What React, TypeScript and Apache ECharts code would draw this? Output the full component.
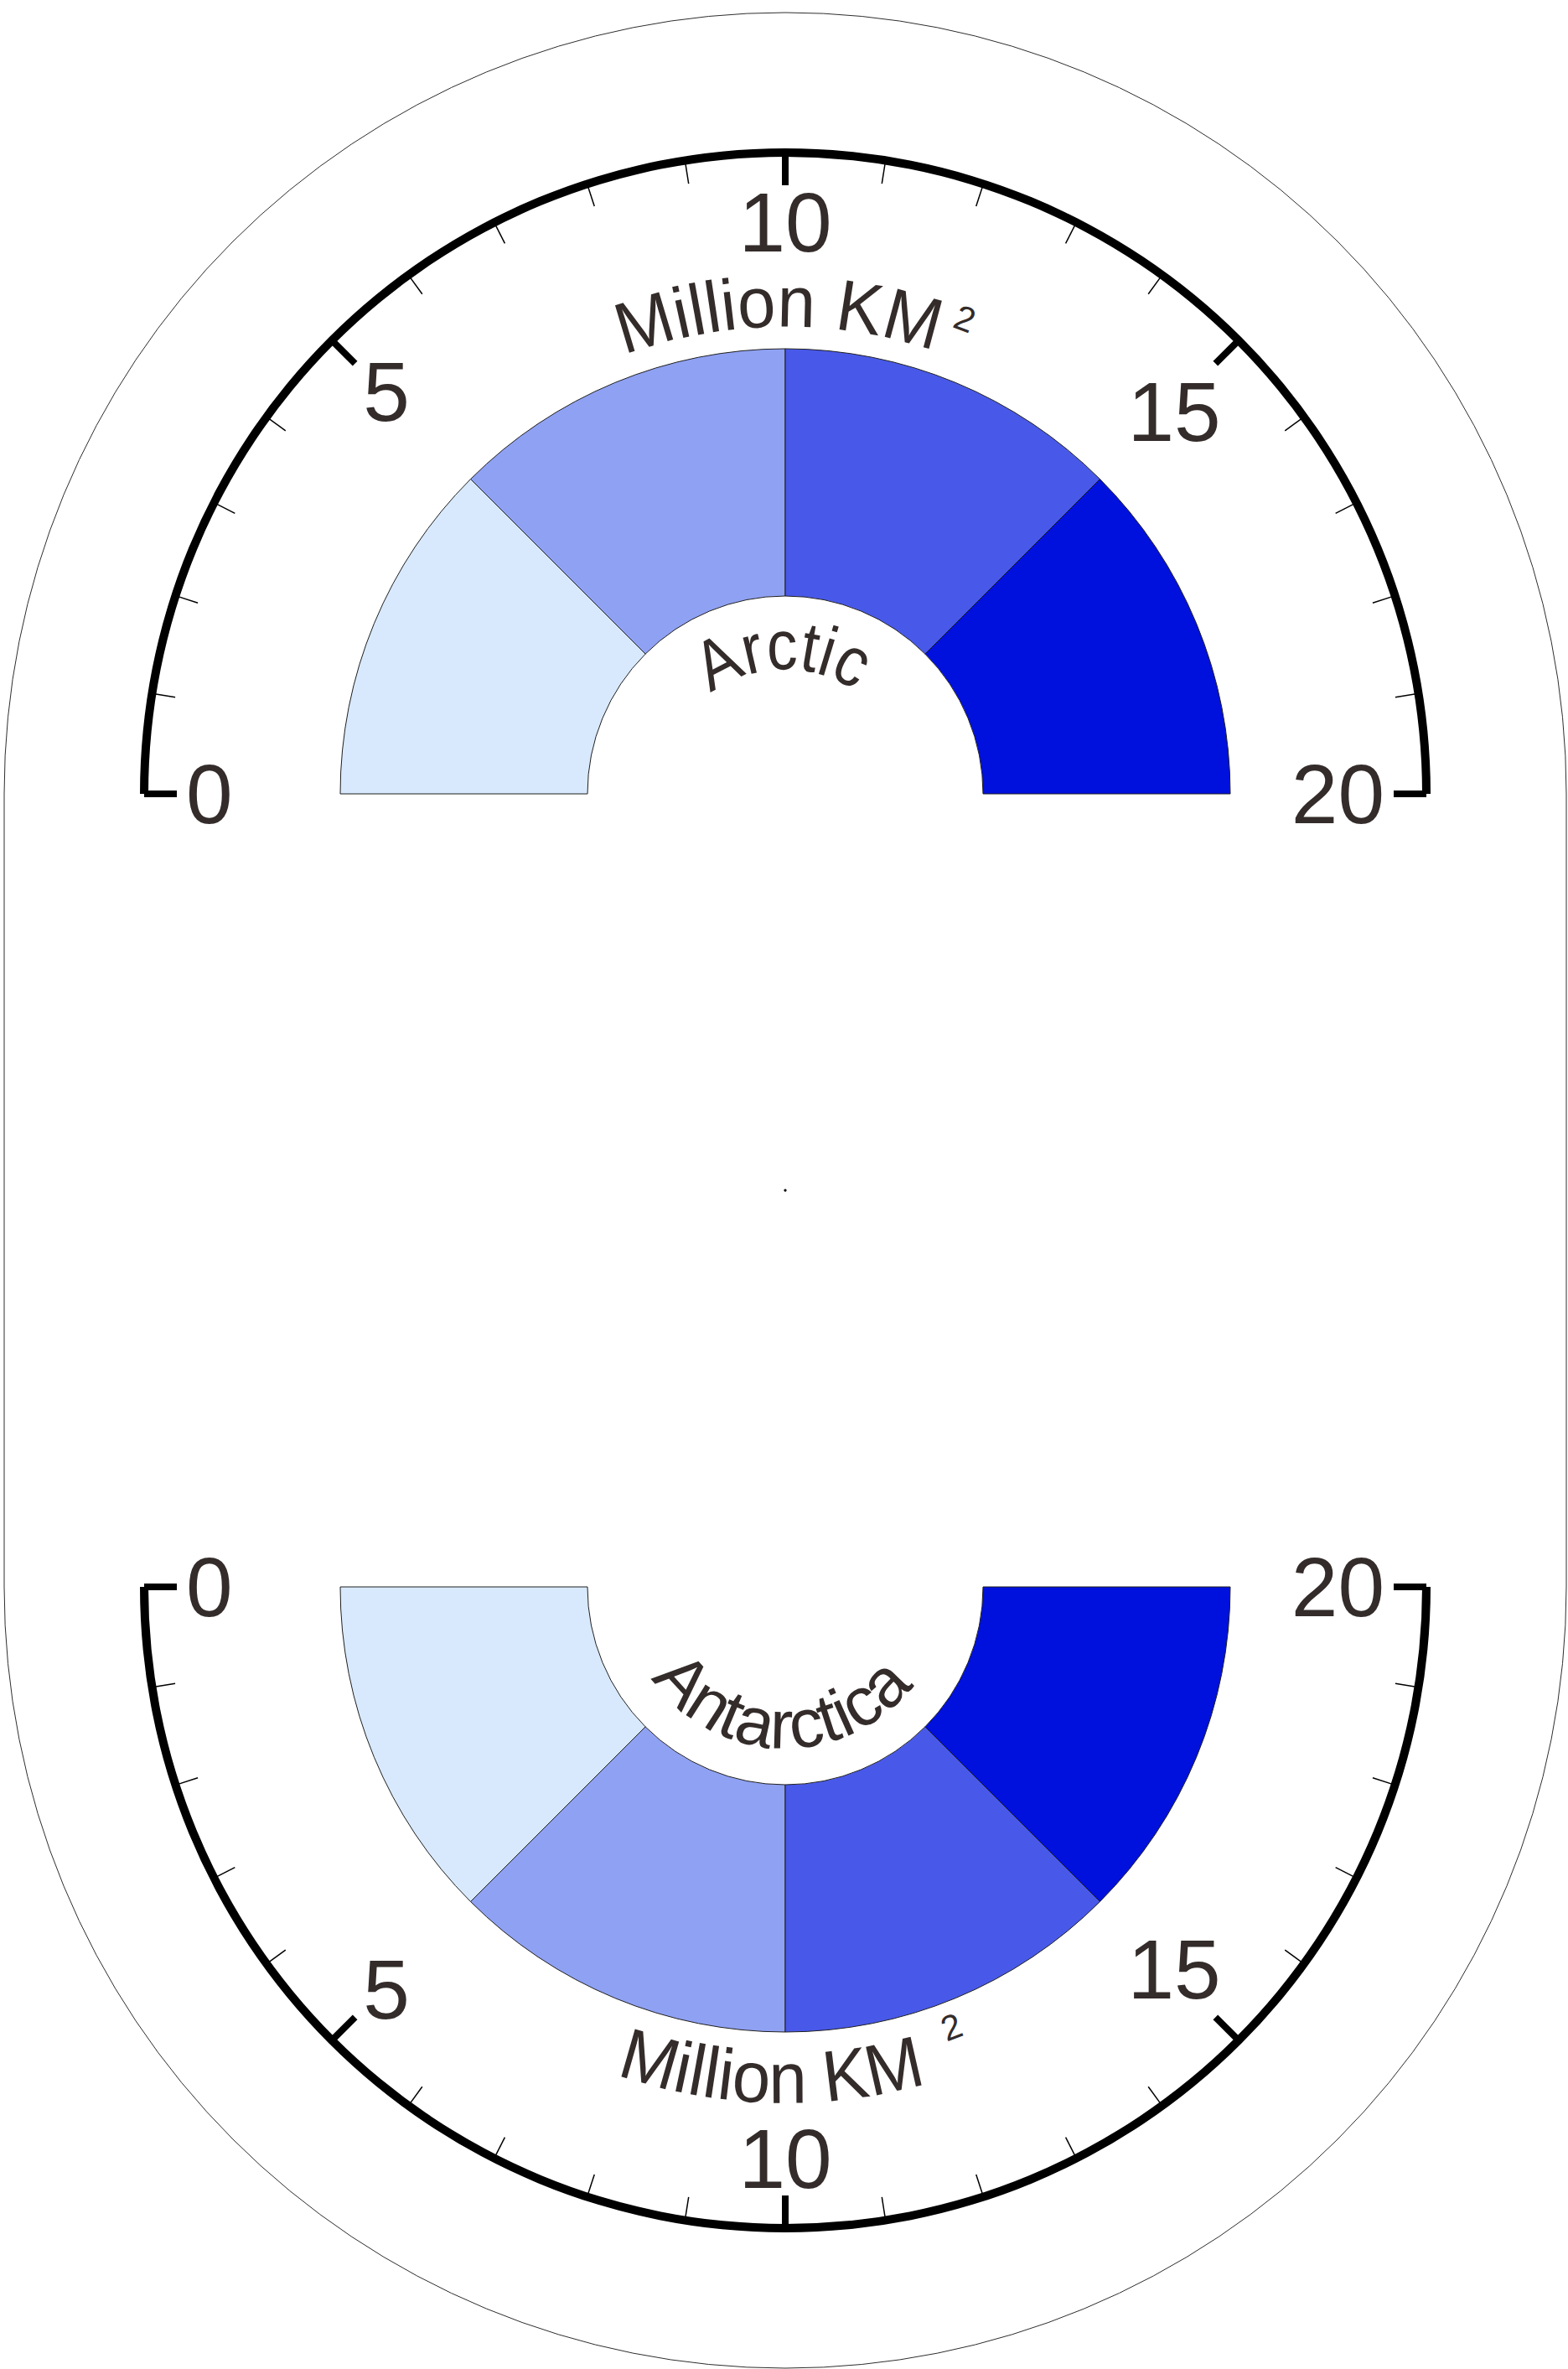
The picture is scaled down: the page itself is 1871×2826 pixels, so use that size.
import React, { useEffect, useRef } from "react";
import * as echarts from "echarts";

// ---------------- data ----------------
const axisMin = 0;
const axisMax = 20;
const majorSplits = 4; // labelled ticks 0, 5, 10, 15, 20
const minorPerSplit = 5; // a minor tick every 1 unit
const tickLabels = ["0", "5", "10", "15", "20"];
const bandNames = ["0-5", "5-10", "10-15", "15-20"];
const bandValues = [5, 5, 5, 5];
const regionNames = ["Arctic", "Antarctica"];
const unitText = "Million KM";
const unitPower = "2";

// ---------------- styles ----------------
const bandColors = ["#d8e9fd", "#8fa1f3", "#4859e9", "#0010dd"];
const inkColor = "#332c2a";
const FONT = '"Liberation Sans", Arial, Helvetica, sans-serif';

// ---------------- layout ----------------
const W = 1871;
const H = 2826;
const CX = 937;
const CY_TOP = 947;
const CY_BOT = 1893;
const AXIS_R = 770;
const AXIS_W = 10;
const BAND_R0 = 236;
const BAND_R1 = 531;
const OUTER_R = 932;

type Pad = [number, number, number, number];

const upperPads: Pad[] = [
  [0, 0, 0, 20],
  [80, 0, 0, 16],
  [3, 0, 0, 0],
  [128, 0, 0, 0],
  [0, 20, 0, 0],
];
const lowerPads: Pad[] = [
  [0, 0, 0, 20],
  [0, 0, 80, 16],
  [0, 0, 3, 0],
  [0, 0, 128, 0],
  [0, 20, 0, 0],
];

function gaugeSeries(cy: number, lower: boolean, pads: Pad[]) {
  const rich: Record<string, any> = {};
  tickLabels.forEach((t, i) => {
    rich["v" + i] = {
      padding: pads[i],
      fontSize: 100,
      fontFamily: FONT,
      color: inkColor,
    };
  });
  return {
    type: "gauge",
    center: [CX, cy],
    radius: AXIS_R,
    startAngle: 180,
    endAngle: lower ? 360 : 0,
    clockwise: !lower,
    min: axisMin,
    max: axisMax,
    splitNumber: majorSplits,
    silent: true,
    axisLine: {
      show: true,
      roundCap: false,
      lineStyle: { width: AXIS_W, color: [[1, "#000000"]] },
    },
    splitLine: {
      show: true,
      distance: -5,
      length: 39,
      lineStyle: { color: "#000000", width: 8 },
    },
    axisTick: {
      show: true,
      splitNumber: minorPerSplit,
      distance: -5,
      length: 28,
      lineStyle: { color: "#000000", width: 1.5 },
    },
    axisLabel: {
      show: true,
      distance: 1,
      fontSize: 100,
      fontFamily: FONT,
      color: inkColor,
      formatter: (v: number) => {
        const idx = Math.round(((v - axisMin) / (axisMax - axisMin)) * majorSplits);
        return "{v" + idx + "|" + tickLabels[idx] + "}";
      },
      rich,
    },
    pointer: { show: false },
    anchor: { show: false },
    progress: { show: false },
    title: { show: false },
    detail: { show: false },
    data: [{ value: axisMin }],
  };
}

function bandSeries(cy: number, lower: boolean) {
  const total = bandValues.reduce((a, b) => a + b, 0);
  return {
    type: "pie",
    center: [CX, cy],
    radius: [BAND_R0, BAND_R1],
    startAngle: 180,
    clockwise: !lower,
    silent: true,
    label: { show: false },
    labelLine: { show: false },
    emphasis: { disabled: true },
    itemStyle: { borderColor: "#1f1f1f", borderWidth: 1 },
    data: [
      ...bandValues.map((v, i) => ({
        name: bandNames[i],
        value: v,
        itemStyle: { color: bandColors[i] },
      })),
      {
        name: "",
        value: total,
        itemStyle: { color: "rgba(0,0,0,0)", borderColor: "rgba(0,0,0,0)", borderWidth: 0 },
      },
    ],
  };
}

let measureCtx: CanvasRenderingContext2D | null = null;
function measure(ch: string, fs: number) {
  if (!measureCtx) measureCtx = document.createElement("canvas").getContext("2d");
  measureCtx!.font = fs + "px " + FONT;
  return measureCtx!.measureText(ch).width;
}

function arcText(
  text: string,
  fs: number,
  sx: number,
  cy: number,
  rBase: number,
  centerDeg: number,
  side: "top" | "bottom"
) {
  const chars = Array.from(text);
  const widths = chars.map((c) => measure(c, fs) * sx);
  const total = widths.reduce((a, b) => a + b, 0);
  const els: any[] = [];
  let acc = 0;
  chars.forEach((c, i) => {
    const s = acc + widths[i] / 2 - total / 2;
    acc += widths[i];
    if (c === " ") return;
    const th = (centerDeg * Math.PI) / 180 + s / rBase;
    let r: number, x: number, y: number, rot: number;
    if (side === "top") {
      r = rBase + 0.35 * fs;
      x = CX + r * Math.sin(th);
      y = cy - r * Math.cos(th);
      rot = -th;
    } else {
      r = rBase - 0.35 * fs;
      x = CX + r * Math.sin(th);
      y = cy + r * Math.cos(th);
      rot = th;
    }
    els.push({
      type: "text",
      x,
      y,
      rotation: rot,
      scaleX: sx,
      silent: true,
      style: {
        text: c,
        x: 0,
        y: 0,
        fontSize: fs,
        fontFamily: FONT,
        fill: inkColor,
        align: "center",
        verticalAlign: "middle",
        textAlign: "center",
        textVerticalAlign: "middle",
      },
    });
  });
  const endDeg = centerDeg + ((total / 2 / rBase) * 180) / Math.PI;
  return { els, endDeg };
}

function supAfter(endDeg: number, gapDeg: number, fs: number, cy: number, rBase: number, side: "top" | "bottom") {
  const w = measure(unitPower, fs);
  const deg = endDeg + gapDeg + ((w / 2 / rBase) * 180) / Math.PI;
  return arcText(unitPower, fs, 1, cy, rBase, deg, side).els;
}

export default function App() {
  const ref = useRef<HTMLDivElement>(null);
  useEffect(() => {
    if (!ref.current) return;
    const chart = echarts.init(ref.current, undefined, { renderer: "svg", width: W, height: H });

    const upUnit = arcText(unitText, 86, 0.95, CY_TOP, 557, -0.8, "top");
    const upSup = supAfter(upUnit.endDeg, 1.0, 42, CY_TOP, 591, "top");
    const upName = arcText(regionNames[0], 84, 0.87, CY_TOP, 148, -1.2, "top");
    const loUnit = arcText(unitText, 86, 0.95, CY_BOT, 616, -1.6, "bottom");
    const loSup = supAfter(loUnit.endDeg, 3.6, 42, CY_BOT, 576, "bottom");
    const loName = arcText(regionNames[1], 82, 1.0, CY_BOT, 193, -1.6, "bottom");

    chart.setOption({
      animation: false,
      series: [
        bandSeries(CY_TOP, false),
        bandSeries(CY_BOT, true),
        gaugeSeries(CY_TOP, false, upperPads),
        gaugeSeries(CY_BOT, true, lowerPads),
      ],
      graphic: [
        {
          type: "rect",
          silent: true,
          shape: {
            x: CX - OUTER_R,
            y: CY_TOP - OUTER_R,
            width: OUTER_R * 2,
            height: CY_BOT - CY_TOP + OUTER_R * 2,
            r: OUTER_R,
          },
          style: { fill: "none", stroke: "#2e2e2e", lineWidth: 1 },
        },
        {
          type: "circle",
          silent: true,
          shape: { cx: CX, cy: (CY_TOP + CY_BOT) / 2, r: 1.6 },
          style: { fill: "#000" },
        },
        ...upUnit.els,
        ...upSup,
        ...upName.els,
        ...loUnit.els,
        ...loSup,
        ...loName.els,
      ],
    });
    return () => chart.dispose();
  }, []);
  return (
    <div
      ref={ref}
      style={{ position: "absolute", left: 0, top: 0, width: W, height: H, background: "#fff" }}
    />
  );
}
